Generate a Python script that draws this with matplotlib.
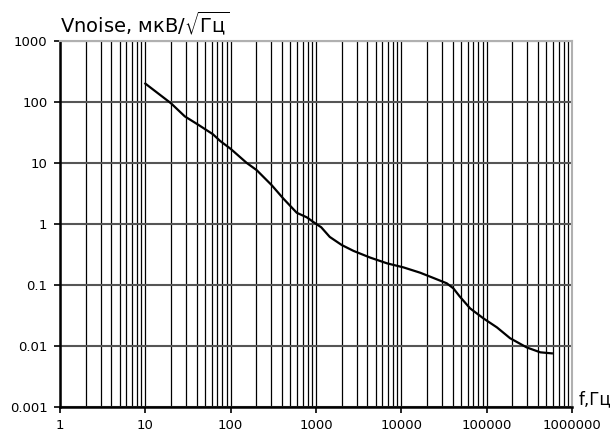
import matplotlib
matplotlib.use("Agg")
import matplotlib.pyplot as plt
from matplotlib.ticker import FixedLocator, FuncFormatter, NullFormatter

# DATA
freq = [10, 20, 29, 42, 62, 75, 100, 154, 202, 303, 414, 595, 780, 1000, 1150,
        1450, 2000, 2750, 4300, 6800, 10600, 16600, 23600, 34000, 40700, 48500,
        64000, 92000, 132000, 188000, 294000, 425000, 580000]
vnoise = [200, 95, 58, 42, 29.5, 23, 17, 10, 7.6, 4.3, 2.6, 1.52, 1.28, 1.0, 0.88,
          0.61, 0.45, 0.36, 0.28, 0.225, 0.193, 0.158, 0.13, 0.106, 0.0875, 0.064,
          0.041, 0.028, 0.020, 0.0133, 0.0094, 0.0078, 0.0075]
x_ticks = [1, 10, 100, 1000, 10000, 100000, 1000000]
y_ticks = [0.001, 0.01, 0.1, 1, 10, 100, 1000]

plt.rcParams['font.family'] = ['DejaVu Sans']
plt.rcParams['mathtext.fontset'] = 'dejavusans'

fig = plt.figure(figsize=(6.16, 4.40), dpi=100)
ax = fig.add_axes([60/616, 33.3/440, 512/616, 365.7/440])

ax.plot(freq, vnoise, color='black', lw=1.6, solid_joinstyle='round', zorder=3)

ax.set_xscale('log')
ax.set_yscale('log')
ax.set_xlim(x_ticks[0], x_ticks[-1])
ax.set_ylim(y_ticks[0], y_ticks[-1])

# grid: every 1..9 vertically, decades only horizontally
x_minor = [m * d for d in x_ticks[:-1] for m in range(2, 10)]
ax.xaxis.set_major_locator(FixedLocator(x_ticks))
ax.xaxis.set_minor_locator(FixedLocator(x_minor))
ax.yaxis.set_major_locator(FixedLocator(y_ticks))
ax.yaxis.set_minor_locator(FixedLocator([]))

def fmt(v, pos):
    return f'{v:g}' if v < 1 else f'{int(round(v))}'

ax.xaxis.set_major_formatter(FuncFormatter(fmt))
ax.yaxis.set_major_formatter(FuncFormatter(fmt))
ax.xaxis.set_minor_formatter(NullFormatter())
ax.yaxis.set_minor_formatter(NullFormatter())

ax.set_axisbelow(True)
ax.grid(True, which='major', axis='x', color='black', lw=0.9)
ax.grid(True, which='minor', axis='x', color='black', lw=0.9)
ax.grid(True, which='major', axis='y', color='#555555', lw=1.5)

ax.tick_params(which='major', direction='out', length=4, width=1.2, color='black',
               labelsize=9.5, labelcolor='black')
ax.tick_params(axis='x', which='major', pad=5)
ax.tick_params(axis='y', which='major', pad=5)
ax.tick_params(which='minor', length=0)

for s in ['left', 'bottom']:
    ax.spines[s].set_color('black')
    ax.spines[s].set_linewidth(1.8)
for s in ['top', 'right']:
    ax.spines[s].set_color('#b0b0b0')
    ax.spines[s].set_linewidth(1.5)

# axis captions
fig.text(60/616, 1 - 32/440, r'Vnoise, мкВ/$\sqrt{\mathrm{Гц}}$', fontsize=14,
         ha='left', va='baseline', color='black')
fig.text(579/616, 1 - 404/440, 'f,Гц', fontsize=12, ha='left', va='baseline',
         color='black')

fig.savefig('out.png', dpi=100, facecolor='white')
